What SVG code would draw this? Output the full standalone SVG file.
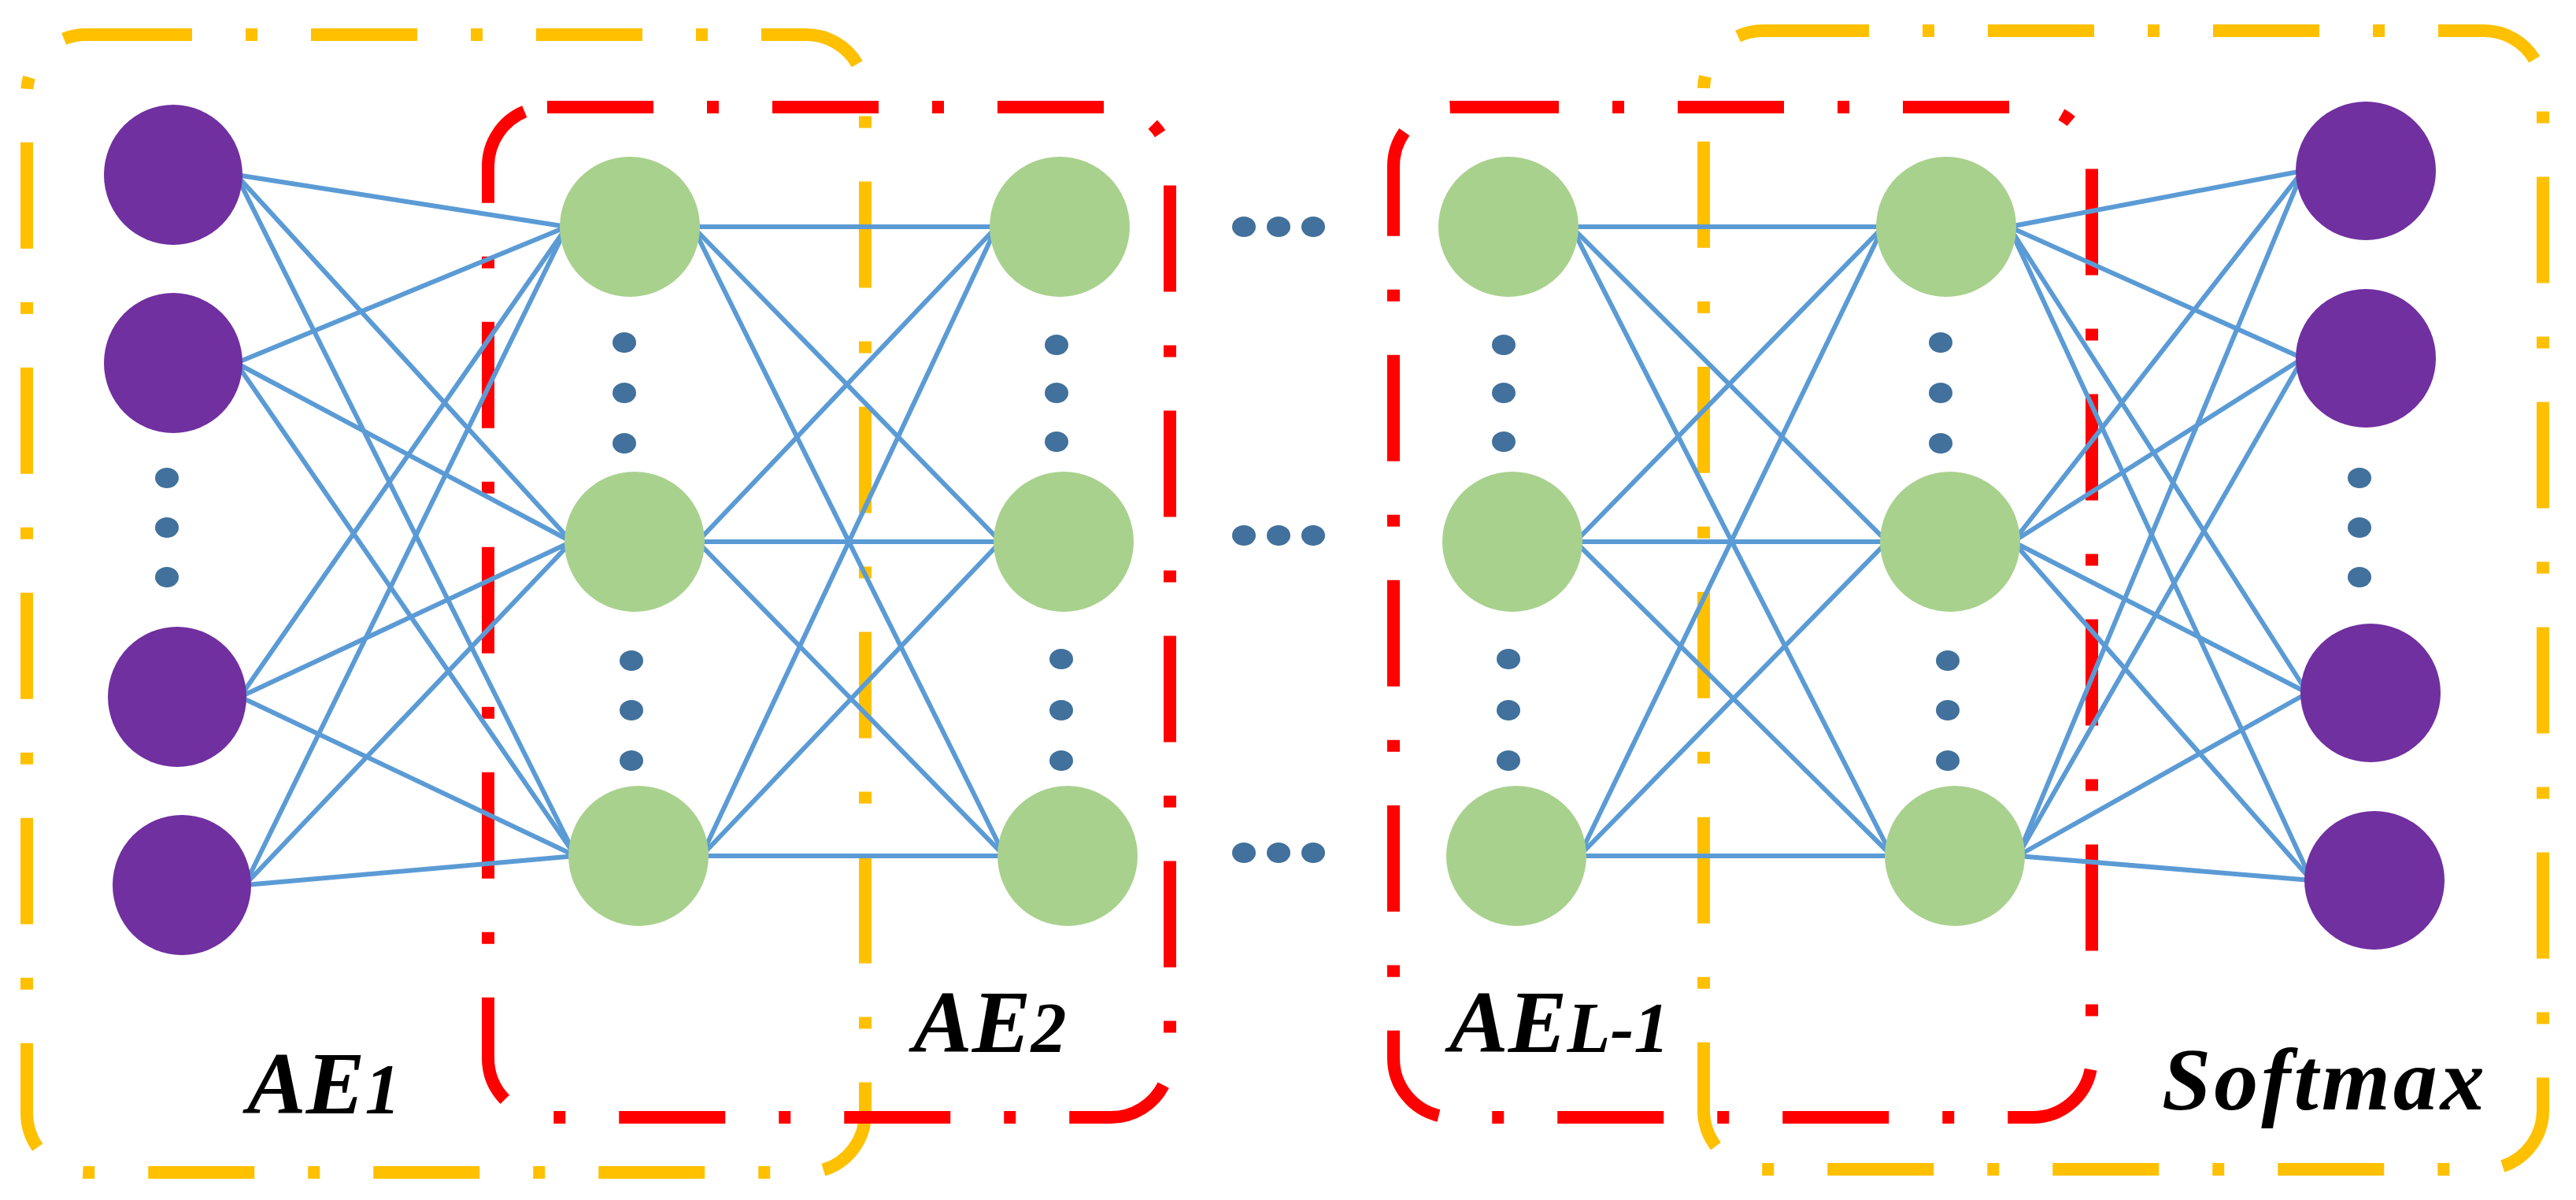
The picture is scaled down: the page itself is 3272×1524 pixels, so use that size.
<svg xmlns="http://www.w3.org/2000/svg" width="3272" height="1524" viewBox="0 0 3272 1524">
<style>
.yb{fill:none;stroke:#FFC000;stroke-width:16;stroke-dasharray:135 68 15 68}
.rb{fill:none;stroke:#FF0000;stroke-width:16;stroke-dasharray:135 68 15 68}
.pu{fill:#7030A0}
.gr{fill:#A9D18E}
.dot{fill:#41719C}
.c line{stroke:#5B9BD5;stroke-width:6}
.lb{font-family:"Liberation Serif",serif;font-weight:bold;font-style:italic;font-size:112px;fill:#000}
</style>
<rect width="3272" height="1524" fill="#fff"/>
<g id="boxes">
<rect class="yb" x="34" y="44" width="1065" height="1445" rx="75"/>
<rect class="rb" x="620" y="136" width="866" height="1283" rx="75"/>
<rect class="rb" x="1770" y="136" width="887" height="1283" rx="75"/>
<rect class="yb" x="2164" y="39" width="1066" height="1446" rx="75"/>
</g>
<g id="connectors" class="c">
<line x1="300" y1="222" x2="720" y2="288"/><line x1="300" y1="222" x2="726" y2="688"/><line x1="300" y1="222" x2="731" y2="1087"/>
<line x1="300" y1="461" x2="720" y2="288"/><line x1="300" y1="461" x2="726" y2="688"/><line x1="300" y1="461" x2="731" y2="1087"/>
<line x1="305" y1="885" x2="720" y2="288"/><line x1="305" y1="885" x2="726" y2="688"/><line x1="305" y1="885" x2="731" y2="1087"/>
<line x1="311" y1="1124" x2="720" y2="288"/><line x1="311" y1="1124" x2="726" y2="688"/><line x1="311" y1="1124" x2="731" y2="1087"/>
<line x1="880" y1="288" x2="1266" y2="288"/><line x1="880" y1="288" x2="1271" y2="688"/><line x1="880" y1="288" x2="1276" y2="1087"/>
<line x1="886" y1="688" x2="1266" y2="288"/><line x1="886" y1="688" x2="1271" y2="688"/><line x1="886" y1="688" x2="1276" y2="1087"/>
<line x1="891" y1="1087" x2="1266" y2="288"/><line x1="891" y1="1087" x2="1271" y2="688"/><line x1="891" y1="1087" x2="1276" y2="1087"/>
<line x1="1996" y1="288" x2="2392" y2="288"/><line x1="1996" y1="288" x2="2397" y2="688"/><line x1="1996" y1="288" x2="2403" y2="1087"/>
<line x1="2001" y1="688" x2="2392" y2="288"/><line x1="2001" y1="688" x2="2397" y2="688"/><line x1="2001" y1="688" x2="2403" y2="1087"/>
<line x1="2006" y1="1087" x2="2392" y2="288"/><line x1="2006" y1="1087" x2="2397" y2="688"/><line x1="2006" y1="1087" x2="2403" y2="1087"/>
<line x1="2552" y1="288" x2="2925" y2="217"/><line x1="2552" y1="288" x2="2925" y2="455"/><line x1="2552" y1="288" x2="2931" y2="880"/><line x1="2552" y1="288" x2="2936" y2="1118"/>
<line x1="2557" y1="688" x2="2925" y2="217"/><line x1="2557" y1="688" x2="2925" y2="455"/><line x1="2557" y1="688" x2="2931" y2="880"/><line x1="2557" y1="688" x2="2936" y2="1118"/>
<line x1="2563" y1="1087" x2="2925" y2="217"/><line x1="2563" y1="1087" x2="2925" y2="455"/><line x1="2563" y1="1087" x2="2931" y2="880"/><line x1="2563" y1="1087" x2="2936" y2="1118"/>
</g>
<g id="input">
<ellipse id="in1" class="pu" cx="220" cy="222" rx="88" ry="89"/>
<ellipse id="in2" class="pu" cx="220" cy="461" rx="88" ry="89"/>
<ellipse id="in3" class="pu" cx="225" cy="885" rx="88" ry="89"/>
<ellipse id="in4" class="pu" cx="231" cy="1124" rx="88" ry="89"/>
<ellipse class="dot" cx="212" cy="607" rx="15" ry="13"/><ellipse class="dot" cx="212" cy="670" rx="15" ry="13"/><ellipse class="dot" cx="212" cy="733" rx="15" ry="13"/>
</g>
<g id="h1">
<ellipse class="gr" cx="800" cy="288" rx="89" ry="89"/>
<ellipse class="gr" cx="806" cy="688" rx="89" ry="89"/>
<ellipse class="gr" cx="811" cy="1087" rx="89" ry="89"/>
<ellipse class="dot" cx="793" cy="435" rx="15" ry="13"/><ellipse class="dot" cx="793" cy="499" rx="15" ry="13"/><ellipse class="dot" cx="793" cy="563" rx="15" ry="13"/>
<ellipse class="dot" cx="802" cy="839" rx="15" ry="13"/><ellipse class="dot" cx="802" cy="902" rx="15" ry="13"/><ellipse class="dot" cx="802" cy="966" rx="15" ry="13"/>
</g>
<g id="h2">
<ellipse class="gr" cx="1346" cy="288" rx="89" ry="89"/>
<ellipse class="gr" cx="1351" cy="688" rx="89" ry="89"/>
<ellipse class="gr" cx="1356" cy="1087" rx="89" ry="89"/>
<ellipse class="dot" cx="1342" cy="438" rx="15" ry="13"/><ellipse class="dot" cx="1342" cy="499" rx="15" ry="13"/><ellipse class="dot" cx="1342" cy="561" rx="15" ry="13"/>
<ellipse class="dot" cx="1348" cy="837" rx="15" ry="13"/><ellipse class="dot" cx="1348" cy="902" rx="15" ry="13"/><ellipse class="dot" cx="1348" cy="966" rx="15" ry="13"/>
</g>
<g id="ellipsis">
<ellipse class="dot" cx="1580" cy="288" rx="15" ry="13"/><ellipse class="dot" cx="1624" cy="288" rx="15" ry="13"/><ellipse class="dot" cx="1668" cy="288" rx="15" ry="13"/>
<ellipse class="dot" cx="1580" cy="680" rx="15" ry="13"/><ellipse class="dot" cx="1624" cy="680" rx="15" ry="13"/><ellipse class="dot" cx="1668" cy="680" rx="15" ry="13"/>
<ellipse class="dot" cx="1580" cy="1083" rx="15" ry="13"/><ellipse class="dot" cx="1624" cy="1083" rx="15" ry="13"/><ellipse class="dot" cx="1668" cy="1083" rx="15" ry="13"/>
</g>
<g id="h3">
<ellipse class="gr" cx="1916" cy="288" rx="89" ry="89"/>
<ellipse class="gr" cx="1921" cy="688" rx="89" ry="89"/>
<ellipse class="gr" cx="1926" cy="1087" rx="89" ry="89"/>
<ellipse class="dot" cx="1910" cy="438" rx="15" ry="13"/><ellipse class="dot" cx="1910" cy="499" rx="15" ry="13"/><ellipse class="dot" cx="1910" cy="561" rx="15" ry="13"/>
<ellipse class="dot" cx="1916" cy="837" rx="15" ry="13"/><ellipse class="dot" cx="1916" cy="902" rx="15" ry="13"/><ellipse class="dot" cx="1916" cy="966" rx="15" ry="13"/>
</g>
<g id="h4">
<ellipse class="gr" cx="2472" cy="288" rx="89" ry="89"/>
<ellipse class="gr" cx="2477" cy="688" rx="89" ry="89"/>
<ellipse class="gr" cx="2483" cy="1087" rx="89" ry="89"/>
<ellipse class="dot" cx="2465" cy="435" rx="15" ry="13"/><ellipse class="dot" cx="2465" cy="499" rx="15" ry="13"/><ellipse class="dot" cx="2465" cy="563" rx="15" ry="13"/>
<ellipse class="dot" cx="2474" cy="839" rx="15" ry="13"/><ellipse class="dot" cx="2474" cy="902" rx="15" ry="13"/><ellipse class="dot" cx="2474" cy="966" rx="15" ry="13"/>
</g>
<g id="output">
<ellipse class="pu" cx="3005" cy="217" rx="89" ry="88"/>
<ellipse class="pu" cx="3005" cy="455" rx="89" ry="88"/>
<ellipse class="pu" cx="3011" cy="880" rx="89" ry="88"/>
<ellipse class="pu" cx="3016" cy="1118" rx="89" ry="88"/>
<ellipse class="dot" cx="2997" cy="607" rx="15" ry="13"/><ellipse class="dot" cx="2997" cy="670" rx="15" ry="13"/><ellipse class="dot" cx="2997" cy="733" rx="15" ry="13"/>
</g>
<g id="labels">
<text class="lb" x="314" y="1414">AE<tspan font-size="90">1</tspan></text>
<text class="lb" x="1160" y="1336">AE<tspan font-size="90">2</tspan></text>
<text class="lb" x="1841" y="1336">AE<tspan font-size="90">L-1</tspan></text>
<text class="lb" x="2746" y="1409" letter-spacing="4">Softmax</text>
</g>
</svg>
